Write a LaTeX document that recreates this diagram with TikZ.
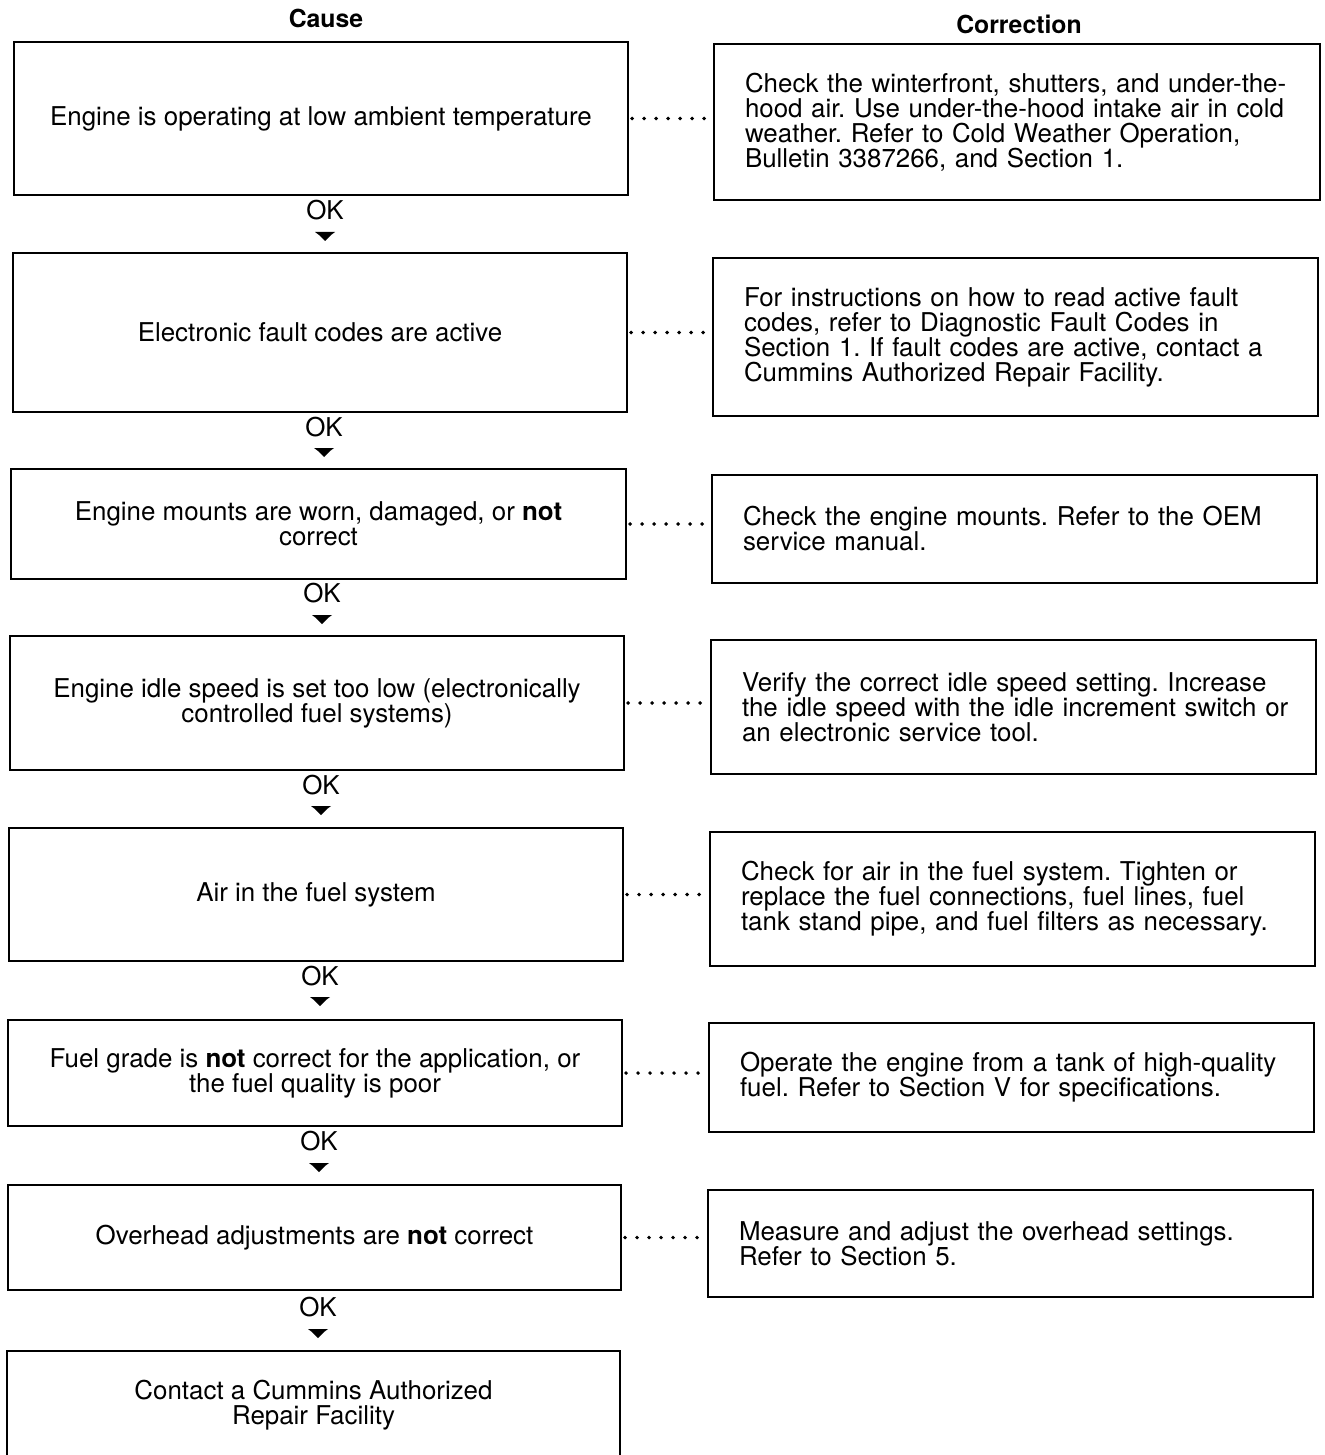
\documentclass[tikz,border=0pt]{standalone}
\usepackage{fontspec}
\setmainfont{TeX Gyre Heros}
\begin{document}
\frenchspacing
\begin{tikzpicture}[x=0.5pt,y=-0.5pt,
  every node/.style={font=\fontsize{12.95}{12.5}\selectfont},
  lbox/.style={draw,line width=1.1pt,align=center,inner sep=2pt},
  rbox/.style={draw,line width=1.1pt,align=left,inner xsep=15.5pt,inner ysep=2pt},
  hdr/.style={font=\fontsize{12.4}{12.5}\selectfont\bfseries},
  oklab/.style={inner sep=0pt},
  okarrow/.style={fill=black},
  dotcon/.style={line width=1.9pt,line cap=round,dash pattern=on 0pt off 6pt}]
\useasboundingbox (0,0) rectangle (1324,1455);

\node[hdr] (hc) at (326,18) {Cause};
\node[hdr] (hr) at (1019,24) {Correction};

% cause boxes
\node[lbox,minimum width=307pt,minimum height=76.5pt] (L1) at (321,118.5) {Engine is operating at low ambient temperature};
\node[lbox,minimum width=307pt,minimum height=79.5pt] (L2) at (320,332.5) {Electronic fault codes are active};
\node[lbox,minimum width=307.5pt,minimum height=55pt] (L3) at (318.5,524) {Engine mounts are worn, damaged, or \textbf{not}\\correct};
\node[lbox,minimum width=307pt,minimum height=67pt] (L4) at (317,703) {Engine idle speed is set too low (electronically\\controlled fuel systems)};
\node[lbox,minimum width=307pt,minimum height=66.5pt] (L5) at (316,894.5) {Air in the fuel system};
\node[lbox,minimum width=307pt,minimum height=53pt] (L6) at (315,1073) {Fuel grade is \textbf{not} correct for the application, or\\the fuel quality is poor};
\node[lbox,minimum width=306.5pt,minimum height=52.5pt] (L7) at (314.5,1237.5) {Overhead adjustments are \textbf{not} correct};
\node[lbox,minimum width=306.5pt,minimum height=54pt] (L8) at (313.5,1405) {Contact a Cummins Authorized\\Repair Facility};

% correction boxes
\node[rbox,text width=272pt,minimum height=78pt] (R1) at (1017,122) {Check the winterfront, shutters, and under-the-\\hood air. Use under-the-hood intake air in cold\\weather. Refer to Cold Weather Operation,\\Bulletin 3387266, and Section 1.};
\node[rbox,text width=271.5pt,minimum height=79pt] (R2) at (1015.5,337) {For instructions on how to read active fault\\codes, refer to Diagnostic Fault Codes in\\Section 1. If fault codes are active, contact a\\Cummins Authorized Repair Facility.};
\node[rbox,text width=271.5pt,minimum height=54pt] (R3) at (1014.5,529) {Check the engine mounts. Refer to the OEM\\service manual.};
\node[rbox,text width=271.5pt,minimum height=67pt] (R4) at (1013.5,707) {Verify the correct idle speed setting. Increase\\\mbox{the idle speed with the idle increment switch or}\\an electronic service tool.};
\node[rbox,text width=271.5pt,minimum height=67pt] (R5) at (1012.5,899) {Check for air in the fuel system. Tighten or\\replace the fuel connections, fuel lines, fuel\\tank stand pipe, and fuel filters as necessary.};
\node[rbox,text width=271.5pt,minimum height=54.5pt] (R6) at (1011.5,1077.5) {Operate the engine from a tank of high-quality\\fuel. Refer to Section V for specifications.};
\node[rbox,text width=271.5pt,minimum height=53.5pt] (R7) at (1010.5,1243.5) {Measure and adjust the overhead settings.\\Refer to Section 5.};

% dotted connectors
\foreach \i in {1,...,7} {
  \draw[dotcon] ([xshift=1.5pt]L\i.east) -- ([xshift=-1.5pt]L\i.east -| R\i.west);
}

% OK labels and arrows
\node[oklab] (ok1) at (325,210) {OK};
\node[oklab] (ok2) at (324,427) {OK};
\node[oklab] (ok3) at (322,593) {OK};
\node[oklab] (ok4) at (321,785) {OK};
\node[oklab] (ok5) at (320,976) {OK};
\node[oklab] (ok6) at (319,1141) {OK};
\node[oklab] (ok7) at (318,1307) {OK};
\foreach \i/\y in {1/236,2/452,3/619,4/810,5/1001,6/1167,7/1333} {
  \coordinate (a\i) at (ok\i.center |- 0,\y);
  \fill[okarrow] (a\i) ++(-10,-4) -- ++(20,0) -- ++(-4,3) -- ++(-6,6) -- ++(-6,-6) -- cycle;
}
\end{tikzpicture}
\end{document}
